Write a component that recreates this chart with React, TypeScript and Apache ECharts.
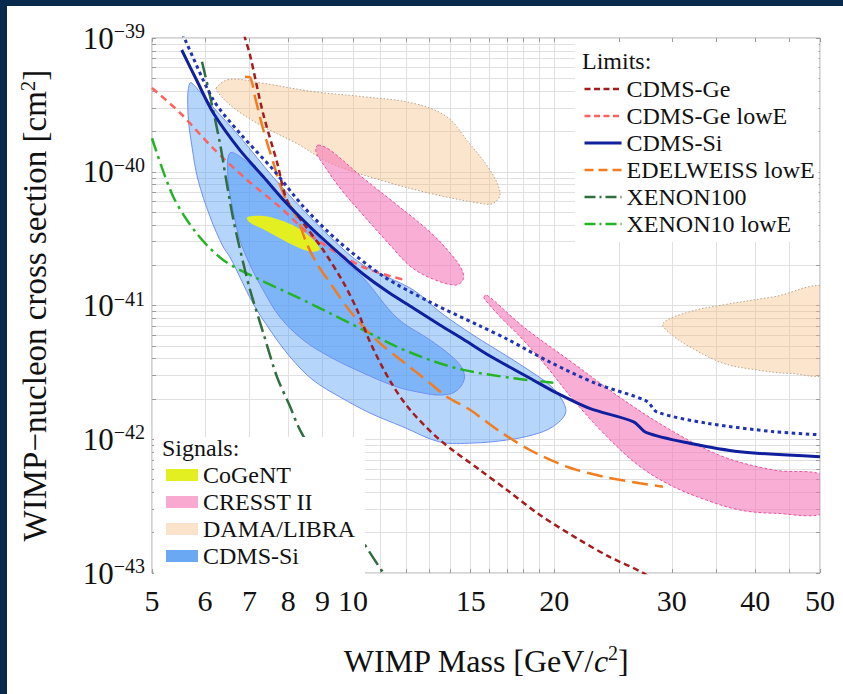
import React, { useEffect, useRef } from "react";
import * as echarts from "echarts";

// Every point is [WIMP mass in GeV/c^2, cross section in cm^2]
type Pt = [number, number];

const FONT = "'Liberation Serif', 'Times New Roman', 'DejaVu Serif', serif";

// ---- axes ----
const massGrid = [5, 6, 7, 8, 9, 10, 11, 12, 13, 14, 15, 16, 17, 18, 19, 20, 25, 30, 35, 40, 45, 50];
const massLabels = [5, 6, 7, 8, 9, 10, 15, 20, 30, 40, 50];
const decadeExponents = [-43, -42, -41, -40, -39];
const decadeSteps = [1, 2, 3, 4, 5, 6, 7, 8, 9];

// ---- limit curves ----
const cdmsGe: Pt[] = [
  [6.8, 1.25e-39], [6.89, 1.0e-39], [7.01, 7.46e-40], [7.33, 2.75e-40], [7.7, 1.16e-40],
  [7.96, 6.15e-41], [8.42, 4.14e-41], [9.02, 2.6e-41], [9.66, 1.5e-41], [10.14, 9.26e-42],
  [10.6, 5.34e-42], [11.36, 2.73e-42], [12.17, 1.66e-42], [13.49, 9.87e-43], [15.48, 5.89e-43],
  [17.0, 4.17e-43], [19.05, 2.71e-43], [21.86, 1.76e-43], [24.2, 1.32e-43], [27.2, 1.0e-43],
  [28.5, 8.5e-44],
];
const cdmsGeLowE: Pt[] = [
  [5.0, 4.23e-40], [5.51, 2.75e-40], [6.17, 1.5e-40], [6.94, 8.68e-41], [7.77, 5.45e-41],
  [8.71, 3.25e-41], [10.35, 1.94e-41], [11.96, 1.55e-41],
];
const cdmsSi: Pt[] = [
  [5.54, 8.13e-40], [5.83, 4.85e-40], [6.18, 2.74e-40], [6.77, 1.45e-40], [7.34, 9.18e-41],
  [7.95, 5.81e-41], [8.72, 3.67e-41], [9.66, 2.31e-41], [10.35, 1.72e-41], [11.28, 1.26e-41],
  [12.3, 9.58e-42], [13.49, 7.15e-42], [14.6, 5.62e-42], [16.03, 4.19e-42], [18.4, 2.86e-42],
  [20.2, 2.21e-42], [22.6, 1.7e-42], [26.3, 1.35e-42], [27.5, 1.12e-42], [31.9, 9.33e-43],
  [37.9, 8.07e-43], [50, 7.41e-43],
];
const cdmsSiCombined: Pt[] = [
  [5.55, 1.08e-39], [5.6, 9.78e-40], [6.18, 3.44e-40], [6.77, 1.94e-40], [7.6, 1.03e-40],
  [8.43, 5.48e-41], [9.46, 3.09e-41], [11.09, 1.66e-41], [13.04, 1.06e-41], [15.48, 7.03e-42],
  [16.99, 5.62e-42], [19.7, 3.78e-42], [23.2, 2.59e-42], [27.5, 1.93e-42], [28.5, 1.6e-42],
  [33.8, 1.32e-42], [42.6, 1.14e-42], [50, 1.08e-42],
];
const edelweissLowE: Pt[] = [
  [6.89, 5.14e-40], [7.01, 5.08e-40], [7.13, 3.64e-40], [7.34, 2.05e-40], [7.6, 1.16e-40],
  [7.86, 6.9e-41], [8.23, 4.61e-41], [8.52, 2.92e-41], [8.82, 2.07e-41], [9.24, 1.47e-41],
  [9.78, 9.8e-42], [10.36, 6.94e-42], [10.97, 5.22e-42], [11.62, 4.14e-42], [12.31, 3.3e-42],
  [13.04, 2.62e-42], [13.81, 2.08e-42], [14.96, 1.66e-42], [16.6, 1.14e-42], [18.4, 8.31e-43],
  [20.9, 6.23e-43], [23.7, 5.25e-43], [26.9, 4.69e-43], [29.1, 4.42e-43],
];
const xenon100: Pt[] = [
  [5.94, 6.65e-40], [6.11, 3.64e-40], [6.32, 1.63e-40], [6.47, 8.2e-41], [6.62, 4.36e-41],
  [6.85, 2.07e-41], [7.01, 1.31e-41], [7.34, 6.2e-42], [7.69, 2.94e-42], [8.05, 1.75e-42],
  [8.33, 1.17e-42], [10.24, 1.87e-43], [11.1, 1.0e-43], [11.3, 9.0e-44],
];
const xenon10LowE: Pt[] = [
  [5.0, 1.78e-40], [5.38, 6.51e-41], [5.83, 3.47e-41], [6.39, 2.19e-41], [7.17, 1.6e-41],
  [8.23, 1.16e-41], [9.24, 8.74e-42], [10.36, 6.56e-42], [11.62, 4.92e-42], [13.04, 3.91e-42],
  [14.62, 3.3e-42], [17.37, 2.86e-42], [19.94, 2.65e-42],
];

// ---- signal regions ----
const cogent: Pt[] = [
  [6.94, 4.57e-41], [7.34, 4.67e-41], [7.77, 4.36e-41], [8.23, 3.85e-41], [8.67, 3.18e-41],
  [8.92, 2.63e-41], [8.67, 2.52e-41], [8.23, 2.75e-41], [7.77, 3.18e-41], [7.34, 3.71e-41],
  [7.01, 4.16e-41],
];
const cresstUpper: Pt[] = [
  [8.86, 1.58e-40], [9.24, 1.45e-40], [10.35, 8.98e-41], [11.64, 5.64e-41], [13.04, 3.54e-41],
  [13.97, 2.47e-41], [14.56, 1.84e-41], [14.6, 1.55e-41], [14.21, 1.42e-41], [13.04, 1.61e-41],
  [12.17, 1.97e-41], [11.36, 2.83e-41], [10.35, 4.75e-41], [9.56, 7.56e-41], [9.02, 1.14e-40],
  [8.8, 1.41e-40],
];
const cresstLower: Pt[] = [
  [15.7, 1.14e-41], [15.85, 1.2e-41], [17.98, 6.94e-42], [21.36, 3.7e-42], [25.39, 1.97e-42],
  [30.16, 1.14e-42], [35.8, 7.41e-43], [42.6, 5.89e-43], [51, 5.22e-43], [51, 2.86e-43],
  [42.6, 2.8e-43], [37.9, 2.96e-43], [33.8, 3.51e-43], [30.16, 4.42e-43], [26.9, 6.23e-43],
  [23.97, 1.05e-42], [21.36, 1.97e-42], [19.49, 3.49e-42], [17.98, 5.52e-42], [16.6, 8.25e-42],
  [15.92, 1.04e-41],
];
const damaLow: Pt[] = [
  [6.24, 4.23e-40], [6.54, 4.91e-40], [7.34, 4.58e-40], [8.72, 3.97e-40], [10.36, 3.64e-40],
  [12.31, 3.25e-40], [13.81, 2.58e-40], [14.79, 1.73e-40], [16.03, 1.03e-40], [16.6, 6.9e-41],
  [16.22, 5.81e-41], [15.48, 5.81e-41], [13.04, 6.9e-41], [10.97, 8.68e-41], [9.24, 1.16e-40],
  [8.23, 1.63e-40], [7.34, 2.17e-40], [6.69, 2.89e-40], [6.32, 3.75e-40],
];
const damaHigh: Pt[] = [
  [29.1, 7.36e-42], [31.9, 8.99e-42], [35.8, 1.01e-41], [42.6, 1.16e-41], [51, 1.33e-41],
  [51, 3.18e-42], [45.1, 3.11e-42], [40.2, 3.3e-42], [35.8, 3.7e-42], [31.9, 4.92e-42],
  [29.8, 6.2e-42],
];
const cdmsSi90: Pt[] = [
  [5.7, 4.61e-40], [5.9, 3.95e-40], [6.17, 3.05e-40], [6.77, 1.82e-40], [7.59, 9.13e-41],
  [8.42, 5.18e-41], [9.24, 3.25e-41], [10.35, 2.01e-41], [12.3, 1.31e-41], [13.49, 8.94e-42],
  [15.12, 6.02e-42], [16.99, 4.19e-42], [18.6, 3.13e-42], [19.7, 2.54e-42], [20.55, 1.97e-42],
  [20.8, 1.57e-42], [19.9, 1.24e-42], [18.6, 1.08e-42], [16.99, 9.87e-43], [15.12, 9.37e-43],
  [13.49, 9.54e-43], [11.87, 1.24e-42], [10.6, 1.57e-42], [9.56, 2.07e-42], [8.71, 2.77e-42],
  [8.05, 4.12e-42], [7.51, 6.56e-42], [7.08, 1.04e-41], [6.77, 1.63e-41], [6.54, 2.31e-41],
  [6.39, 2.74e-41], [6.11, 4.59e-41], [5.86, 8.68e-41], [5.74, 1.53e-40], [5.66, 2.75e-40],
];
const cdmsSi68: Pt[] = [
  [6.54, 1.38e-40], [6.89, 1.22e-40], [7.33, 8.98e-41], [7.96, 5.64e-41], [8.71, 3.54e-41],
  [9.46, 2.39e-41], [10.35, 1.61e-41], [11.64, 8.06e-42], [13.04, 5.52e-42], [13.97, 4.27e-42],
  [14.56, 3.41e-42], [14.66, 2.77e-42], [14.21, 2.26e-42], [13.49, 2.14e-42], [12.72, 2.22e-42],
  [11.64, 2.46e-42], [10.35, 3.13e-42], [9.24, 4.12e-42], [8.42, 5.52e-42], [7.77, 8.2e-42],
  [7.33, 1.31e-41], [7.01, 2.01e-41], [6.77, 3.09e-41], [6.61, 5.18e-41], [6.5, 8.68e-41],
];

const limitNames = ["CDMS-Ge", "CDMS-Ge lowE", "CDMS-Si", "EDELWEISS lowE", "XENON100", "XENON10 lowE"];
const signalNames = ["CoGeNT", "CRESST II", "DAMA/LIBRA", "CDMS-Si signal"];

const lg = Math.log10;
const toXY = (pts: Pt[]) => pts.map(([m, s]) => [lg(m), lg(s)]);

const massTicks = massGrid.map(lg);
const sigmaTicks = decadeExponents
  .slice(0, -1)
  .flatMap((e) => decadeSteps.map((k) => e + lg(k)))
  .concat([decadeExponents[decadeExponents.length - 1]]);

const textBase = { fontFamily: FONT, color: "#111" };

function limitSeries(name: string, pts: Pt[], color: string, width: number, dash: any) {
  return {
    type: "line",
    name,
    data: toXY(pts),
    symbol: "none",
    showSymbol: false,
    smooth: 0.3,
    clip: true,
    silent: true,
    z: 3,
    lineStyle: { color, width, type: dash, cap: "butt" },
    itemStyle: { color },
  };
}

function regionSeries(
  name: string,
  regions: Pt[][],
  fills: string[],
  stroke: string,
  dash: number[] | null,
  swatch: string
) {
  return {
    type: "custom",
    name,
    clip: true,
    silent: true,
    z: 2,
    itemStyle: { color: swatch },
    data: regions.map((r) => [lg(r[0][0]), lg(r[0][1])]),
    renderItem: (params: any, api: any) => {
      const region = regions[params.dataIndex];
      const points = region.map(([m, s]) => api.coord([lg(m), lg(s)]));
      return {
        type: "polygon",
        shape: { points, smooth: 0.35 },
        style: {
          fill: fills[params.dataIndex],
          stroke,
          lineWidth: stroke === "none" ? 0 : 1,
          lineDash: dash || undefined,
        },
      };
    },
  };
}

const tickStyle = { show: true, inside: true, length: 4, lineStyle: { color: "#9c9c9c", width: 1 } };

const option: any = {
  animation: false,
  backgroundColor: "#ffffff",
  grid: {
    left: 145,
    right: 23,
    top: 32,
    bottom: 121,
    show: true,
    borderColor: "#a9a9a9",
    borderWidth: 1,
    backgroundColor: "transparent",
    outerBoundsMode: "none",
  },
  title: [
    { text: "Limits:", left: 575, top: 43, padding: 0, textStyle: { ...textBase, fontSize: 24, fontWeight: "normal" } },
    { text: "Signals:", left: 155, top: 430, padding: 0, textStyle: { ...textBase, fontSize: 24, fontWeight: "normal" } },
  ],
  legend: [
    {
      data: limitNames.map((name) => ({
        name,
        lineStyle:
          name === "CDMS-Si"
            ? { width: 3 }
            : name === "CDMS-Ge" || name === "CDMS-Ge lowE"
            ? { width: 2.5, type: [6, 3.5] }
            : name === "EDELWEISS lowE"
            ? { width: 2.5, type: [9, 5] }
            : { width: 2.5, type: [11, 4, 2, 4] },
      })),
      orient: "vertical",
      left: 568,
      top: 36,
      padding: [35, 4, 6, 8],
      itemGap: 3,
      itemWidth: 37,
      itemHeight: 14,
      backgroundColor: "#ffffff",
      borderWidth: 0,
      selectedMode: false,
      itemStyle: { opacity: 0 },
      textStyle: { ...textBase, fontSize: 24, lineHeight: 22 },
    },
    {
      data: signalNames.map((name) => ({ name })),
      formatter: (name: string) => name.replace(" signal", ""),
      orient: "vertical",
      left: 147,
      top: 431,
      padding: [26, 10, 6, 12],
      itemGap: 3,
      itemWidth: 32,
      itemHeight: 12,
      icon: "rect",
      backgroundColor: "#ffffff",
      borderWidth: 0,
      selectedMode: false,
      itemStyle: { borderWidth: 0 },
      textStyle: { ...textBase, fontSize: 24, lineHeight: 22 },
    },
  ],
  xAxis: [
    {
      type: "value",
      min: lg(5),
      max: lg(50),
      position: "bottom",
      axisLine: { show: false },
      axisTick: { ...tickStyle, customValues: massTicks },
      axisLabel: {
        customValues: massLabels.map(lg),
        formatter: (v: number) => String(Math.round(Math.pow(10, v))),
        ...textBase,
        fontSize: 30,
        margin: 12,
      },
      splitLine: { show: true, lineStyle: { color: "#e0e0e0", width: 1 } },
      name: "{t|WIMP Mass [GeV/}{i|c}{p|2}{t|]}",
      nameLocation: "middle",
      nameGap: 70,
      nameTextStyle: {
        rich: {
          t: { ...textBase, fontSize: 32, lineHeight: 36 },
          i: { ...textBase, fontSize: 32, lineHeight: 36, fontStyle: "italic" },
          p: { ...textBase, fontSize: 20, lineHeight: 20, verticalAlign: "top" },
        },
      },
    },
    {
      type: "value",
      min: lg(5),
      max: lg(50),
      position: "top",
      axisLine: { show: false },
      axisTick: { ...tickStyle, customValues: massTicks },
      axisLabel: { show: false },
      splitLine: { show: false },
    },
  ],
  yAxis: [
    {
      type: "value",
      min: -43,
      max: -39,
      position: "left",
      axisLine: { show: false },
      axisTick: { ...tickStyle, customValues: sigmaTicks },
      axisLabel: {
        customValues: decadeExponents,
        formatter: (v: number) => `{b|10}{s|\u2212${Math.abs(Math.round(v))}}`,
        margin: 7,
        rich: {
          b: { ...textBase, fontSize: 31, lineHeight: 34 },
          s: { ...textBase, fontSize: 20, lineHeight: 16, verticalAlign: "top" },
        },
      },
      splitLine: { show: true, lineStyle: { color: "#e0e0e0", width: 1 } },
      name: "{t|WIMP\u2212nucleon cross section [cm}{p|2}{t|]}",
      nameLocation: "middle",
      nameGap: 99,
      nameRotate: 90,
      nameTextStyle: {
        rich: {
          t: { ...textBase, fontSize: 33, lineHeight: 36 },
          p: { ...textBase, fontSize: 21, lineHeight: 20, verticalAlign: "top" },
        },
      },
    },
    {
      type: "value",
      min: -43,
      max: -39,
      position: "right",
      axisLine: { show: false },
      axisTick: { ...tickStyle, customValues: sigmaTicks },
      axisLabel: { show: false },
      splitLine: { show: false },
    },
  ],
  series: [
    regionSeries("DAMA/LIBRA", [damaLow, damaHigh], ["rgba(247,190,130,0.4)", "rgba(247,190,130,0.4)"], "#b9a48c", [1.5, 2], "#fbe3cb"),
    regionSeries("CDMS-Si signal", [cdmsSi90, cdmsSi68], ["rgba(80,155,245,0.42)", "rgba(80,155,245,0.55)"], "#7090f2", null, "#6aa8f4"),
    regionSeries("CRESST II", [cresstUpper, cresstLower], ["rgba(245,120,185,0.6)", "rgba(245,120,185,0.6)"], "#ee4f9e", [3, 2], "#f9a8d0"),
    regionSeries("CoGeNT", [cogent], ["#e4ef22"], "none", null, "#e4ef22"),
    limitSeries("CDMS-Ge lowE", cdmsGeLowE, "#ff6060", 2.5, [7, 5]),
    limitSeries("XENON10 lowE", xenon10LowE, "#25b425", 2.5, [14, 5, 3, 5]),
    limitSeries("XENON100", xenon100, "#2e6e3f", 2.5, [16, 5, 3, 5]),
    limitSeries("EDELWEISS lowE", edelweissLowE, "#f27d1e", 2.5, [16, 7]),
    limitSeries("CDMS-Ge", cdmsGe, "#a61c1c", 2.5, [6, 4]),
    limitSeries("CDMS-Si combined", cdmsSiCombined, "#1f33b3", 3, [3.5, 3.5]),
    limitSeries("CDMS-Si", cdmsSi, "#0f1f9e", 3, "solid"),
  ],
};

export default function App() {
  const ref = useRef<HTMLDivElement>(null);
  useEffect(() => {
    if (!ref.current) return;
    const chart = echarts.init(ref.current, undefined, { renderer: "svg" });
    chart.setOption(option);
    return () => chart.dispose();
  }, []);
  return (
    <div style={{ position: "fixed", left: 0, top: 0, width: 843, height: 694, background: "#082b4d" }}>
      <div
        ref={ref}
        style={{ position: "absolute", left: 7, top: 6, width: 836, height: 688, background: "#ffffff" }}
      />
    </div>
  );
}
